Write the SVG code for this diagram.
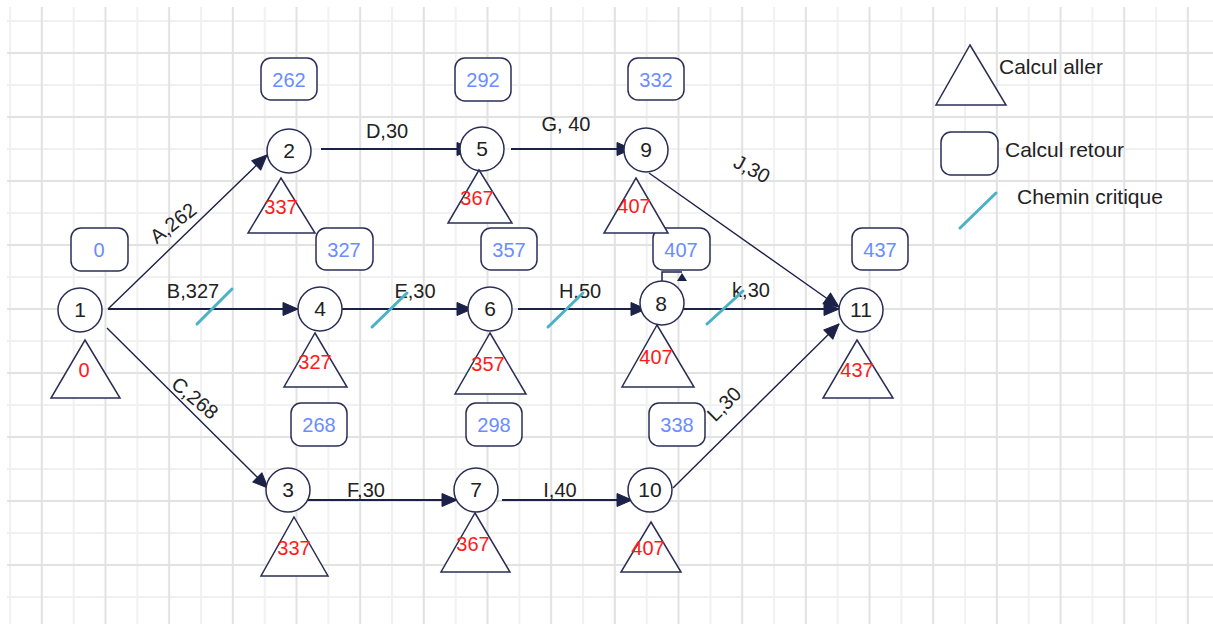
<svg xmlns="http://www.w3.org/2000/svg" width="1213" height="624" viewBox="0 0 1213 624">
  <defs>
    <!-- squared paper: light line every ~32px, darker line every ~64px -->
    <pattern id="grid" patternUnits="userSpaceOnUse" x="9" y="20" width="63.67" height="64">
      <rect x="0" y="0" width="63.67" height="64" fill="#ffffff"/>
      <rect x="0" y="0" width="2" height="64" fill="#f1f1f1"/>
      <rect x="0" y="0" width="63.67" height="2" fill="#f1f1f1"/>
      <rect x="31.8" y="0" width="2" height="64" fill="#e2e2e2"/>
      <rect x="0" y="32" width="63.67" height="2" fill="#e2e2e2"/>
    </pattern>
    <marker id="arrow" markerUnits="userSpaceOnUse" markerWidth="17" markerHeight="15" refX="15" refY="7" orient="auto" overflow="visible">
      <path d="M0,0.5 L15,7 L0,13.5 z" fill="#1c2148" stroke="#1c2148" stroke-width="1" stroke-linejoin="round"/>
    </marker>
    <style>
      .node circle { fill: #ffffff; stroke: #2a2e55; stroke-width: 1.5; }
      .tri { fill: #ffffff; stroke: #2a2e55; stroke-width: 1.5; }
      .box { fill: #ffffff; stroke: #2a2e55; stroke-width: 1.5; }
      .num { font-family: "Liberation Sans", Arial, sans-serif; font-size: 21px; fill: #222222; text-anchor: middle; }
      .early { font-family: "Liberation Sans", Arial, sans-serif; font-size: 20px; fill: #ff1a1a; text-anchor: middle; }
      .late { font-family: "Liberation Sans", Arial, sans-serif; font-size: 20px; fill: #6a8cff; text-anchor: middle; }
      .lbl { font-family: "Liberation Sans", Arial, sans-serif; font-size: 20px; fill: #222222; text-anchor: middle; }
      .legend { font-family: "Liberation Sans", Arial, sans-serif; font-size: 21px; fill: #222222; }
      .edge { fill: none; stroke: #1c2148; stroke-width: 1.8; marker-end: url(#arrow); }
      .diag { stroke-width: 1.4; }
      .crit { stroke: #4ab2c6; stroke-width: 3; stroke-linecap: round; }
    </style>
  </defs>

  <rect x="0" y="0" width="1213" height="624" fill="#ffffff"/>
  <rect x="7" y="7" width="1206" height="617" fill="url(#grid)"/>

  <!-- activities -->
  <g id="connectors">
    <path class="edge diag" d="M108,309 L267,155"/>
    <path class="edge" d="M108,309 L298,309"/>
    <path class="edge diag" d="M107,328 L268,488"/>
    <path class="edge" d="M321,149 L472,149"/>
    <path class="edge" d="M511,149 L632,149"/>
    <path class="edge diag" d="M649,173 L839,307"/>
    <path class="edge" d="M342,309 L472,309"/>
    <path class="edge" d="M518,309 L646,309"/>
    <path class="edge" d="M683,309 L839,309"/>
    <path class="edge" d="M307,500 L457,500"/>
    <path class="edge" d="M502,500 L632,500"/>
    <path class="edge diag" d="M673,488 L839,324"/>
    <!-- short link from node 8 to its late-date box -->
    <path d="M662,282 V272 H682" fill="none" stroke="#1c2148" stroke-width="1.5"/>
    <path d="M682,273 L687,281 L677,281 z" fill="#1c2148"/>

    <text class="lbl" transform="translate(173,223) rotate(-38)" y="7">A,262</text>
    <text class="lbl" x="193" y="298">B,327</text>
    <text class="lbl" transform="translate(195,398) rotate(40)" y="7">C,268</text>
    <text class="lbl" x="387" y="138">D,30</text>
    <text class="lbl" x="566" y="131">G, 40</text>
    <text class="lbl" transform="translate(752,169) rotate(28)" y="7">J,30</text>
    <text class="lbl" x="415" y="298">E,30</text>
    <text class="lbl" x="580" y="298">H,50</text>
    <text class="lbl" x="751" y="297">k,30</text>
    <text class="lbl" x="366" y="497">F,30</text>
    <text class="lbl" x="560" y="497">I,40</text>
    <text class="lbl" transform="translate(724,404) rotate(-45)" y="7">L,30</text>

    <!-- critical path marks -->
    <line class="crit" x1="197" y1="324" x2="232" y2="289"/>
    <line class="crit" x1="372" y1="327" x2="407" y2="293"/>
    <line class="crit" x1="548" y1="327" x2="583" y2="293"/>
    <line class="crit" x1="707" y1="324" x2="743" y2="291"/>
  </g>

  <!-- events -->
  <g id="node-1" class="node">
    <rect class="box" x="71" y="228" width="57" height="43" rx="10"/>
    <text class="late" x="99" y="257">0</text>
    <circle cx="80" cy="310" r="22"/>
    <text class="num" x="80" y="317">1</text>
    <polygon class="tri" points="85,340 120,398 51,398"/>
    <text class="early" x="84" y="377">0</text>
  </g>
  <g id="node-2" class="node">
    <rect class="box" x="261" y="58" width="56" height="42" rx="10"/>
    <text class="late" x="289" y="87">262</text>
    <circle cx="289" cy="151" r="22"/>
    <text class="num" x="289" y="158">2</text>
    <polygon class="tri" points="281,178 315,233 248,233"/>
    <text class="early" x="281" y="214">337</text>
  </g>
  <g id="node-3" class="node">
    <rect class="box" x="291" y="403" width="56" height="43" rx="10"/>
    <text class="late" x="319" y="432">268</text>
    <circle cx="288" cy="490" r="22"/>
    <text class="num" x="288" y="497">3</text>
    <polygon class="tri" points="294,517 328,576 261,576"/>
    <text class="early" x="294" y="555">337</text>
  </g>
  <g id="node-4" class="node">
    <rect class="box" x="316" y="228" width="57" height="42" rx="10"/>
    <text class="late" x="344" y="257">327</text>
    <circle cx="320" cy="309" r="22"/>
    <text class="num" x="320" y="316">4</text>
    <polygon class="tri" points="315,333 347,387 284,387"/>
    <text class="early" x="315" y="369">327</text>
  </g>
  <g id="node-5" class="node">
    <rect class="box" x="455" y="58" width="56" height="43" rx="10"/>
    <text class="late" x="483" y="87">292</text>
    <circle cx="482" cy="149" r="22"/>
    <text class="num" x="482" y="156">5</text>
    <polygon class="tri" points="479,170 512,223 448,223"/>
    <text class="early" x="477" y="205">367</text>
  </g>
  <g id="node-6" class="node">
    <rect class="box" x="481" y="228" width="56" height="42" rx="10"/>
    <text class="late" x="509" y="257">357</text>
    <circle cx="490" cy="309" r="22"/>
    <text class="num" x="490" y="316">6</text>
    <polygon class="tri" points="490,333 526,394 455,394"/>
    <text class="early" x="488" y="371">357</text>
  </g>
  <g id="node-7" class="node">
    <rect class="box" x="466" y="403" width="56" height="43" rx="10"/>
    <text class="late" x="494" y="432">298</text>
    <circle cx="476" cy="490" r="22"/>
    <text class="num" x="476" y="497">7</text>
    <polygon class="tri" points="475,513 510,572 441,572"/>
    <text class="early" x="473" y="551">367</text>
  </g>
  <g id="node-8" class="node">
    <rect class="box" x="653" y="228" width="57" height="42" rx="10"/>
    <text class="late" x="681" y="257">407</text>
    <circle cx="662" cy="303" r="22"/>
    <text class="num" x="661" y="311">8</text>
    <polygon class="tri" points="657,325 694,387 622,387"/>
    <text class="early" x="656" y="364">407</text>
  </g>
  <g id="node-9" class="node">
    <rect class="box" x="628" y="58" width="56" height="42" rx="10"/>
    <text class="late" x="656" y="87">332</text>
    <circle cx="646" cy="150" r="22"/>
    <text class="num" x="646" y="157">9</text>
    <polygon class="tri" points="636,178 668,233 604,233"/>
    <text class="early" x="634" y="213">407</text>
  </g>
  <g id="node-10" class="node">
    <rect class="box" x="649" y="403" width="56" height="43" rx="10"/>
    <text class="late" x="677" y="432">338</text>
    <circle cx="650" cy="490" r="22"/>
    <text class="num" x="650" y="497">10</text>
    <polygon class="tri" points="651,522 681,572 621,572"/>
    <text class="early" x="648" y="555">407</text>
  </g>
  <g id="node-11" class="node">
    <rect class="box" x="852" y="228" width="56" height="42" rx="10"/>
    <text class="late" x="880" y="257">437</text>
    <circle cx="861" cy="310" r="22"/>
    <text class="num" x="861" y="317">11</text>
    <polygon class="tri" points="857,340 893,398 823,398"/>
    <text class="early" x="857" y="377">437</text>
  </g>

  <!-- key -->
  <g id="legend">
    <polygon class="tri" points="970,45 1006,105 936,105"/>
    <text class="legend" x="999" y="74">Calcul aller</text>
    <rect class="box" x="941" y="132" width="57" height="43" rx="10"/>
    <text class="legend" x="1005" y="157">Calcul retour</text>
    <line class="crit" x1="960" y1="228" x2="996" y2="193"/>
    <text class="legend" x="1017" y="204">Chemin critique</text>
  </g>
</svg>
